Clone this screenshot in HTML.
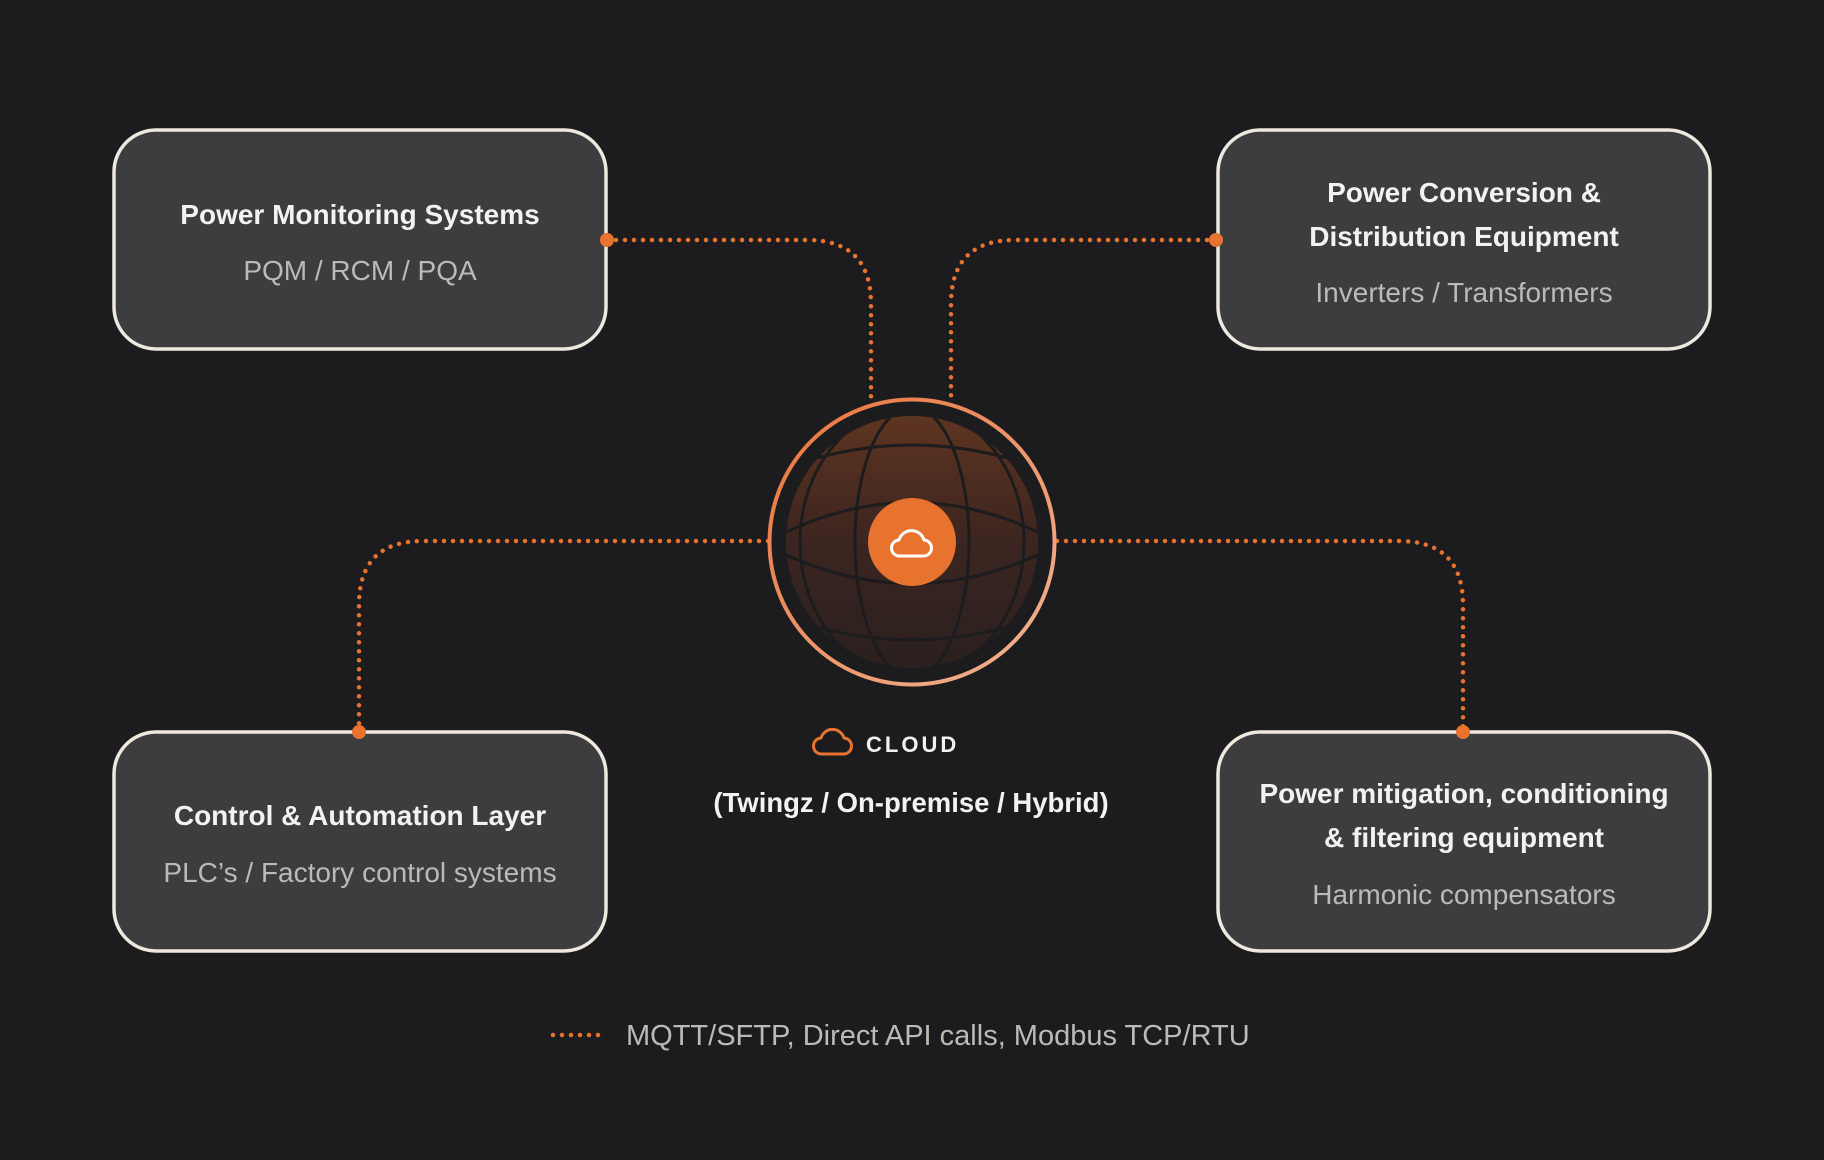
<!DOCTYPE html>
<html><head><meta charset="utf-8"><style>
html,body{margin:0;padding:0;background:#1c1c1e;}
svg{display:block}
text{font-family:"Liberation Sans",sans-serif;}
</style></head><body>
<svg width="1824" height="1160" viewBox="0 0 1824 1160" xmlns="http://www.w3.org/2000/svg">
<defs>
<linearGradient id="globe" x1="0" y1="0" x2="0" y2="1">
<stop offset="0" stop-color="#5e3420"/><stop offset="0.5" stop-color="#3c2520"/><stop offset="1" stop-color="#2a201f"/>
</linearGradient>
<linearGradient id="ring" x1="0" y1="0" x2="1" y2="1">
<stop offset="0" stop-color="#e8733a"/><stop offset="1" stop-color="#f2b594"/>
</linearGradient>
<clipPath id="gc"><circle cx="912" cy="542" r="126"/></clipPath>
</defs>
<rect width="1824" height="1160" fill="#1c1c1e"/>

<g fill="none" stroke="#e8732f" stroke-width="4.5" stroke-linecap="round" stroke-dasharray="0 9">
<path d="M607 240 H807 Q871 240 871 304 V398"/>
<path d="M1216 240 H1015 Q951 240 951 304 V398"/>
<path d="M768 541 H423 Q359 541 359 605 V731"/>
<path d="M1057 541 H1399 Q1463 541 1463 605 V731"/>
<path d="M553 1035 H607"/>
</g>

<g fill="#3d3d40" stroke="#eee8de" stroke-width="3.5">
<rect x="114" y="130" width="492" height="219" rx="42"/>
<rect x="1218" y="130" width="492" height="219" rx="42"/>
<rect x="114" y="732" width="492" height="219" rx="42"/>
<rect x="1218" y="732" width="492" height="219" rx="42"/>
</g>
<g fill="#e8732f">
<circle cx="607" cy="240" r="7"/><circle cx="1216" cy="240" r="7"/>
<circle cx="359" cy="732" r="7"/><circle cx="1463" cy="732" r="7"/>
</g>

<circle cx="912" cy="542" r="142.5" fill="#1c1c1e" stroke="url(#ring)" stroke-width="4"/>
<circle cx="912" cy="542" r="126" fill="url(#globe)"/>
<g clip-path="url(#gc)" fill="none" stroke="#1c1c1e" stroke-width="3">
<ellipse cx="912" cy="542" rx="57" ry="135"/>
<ellipse cx="912" cy="542" rx="112" ry="135"/>
<path d="M780 470 Q912 420 1044 470"/>
<path d="M780 535 Q912 470 1044 535"/>
<path d="M780 552 Q912 615 1044 552"/>
<path d="M780 615 Q912 665 1044 615"/>
</g>
<circle cx="912" cy="542" r="44" fill="#e8732f"/>
<path d="M900 556 a8 8 0 0 1 -1 -16 a13 13 0 0 1 25 0 a8 8 0 0 1 -1 16 z" fill="none" stroke="#fff" stroke-width="3" stroke-linejoin="round"/>

<g text-anchor="middle">
<text x="360" y="224" font-size="28" font-weight="bold" fill="#f4f2ee">Power Monitoring Systems</text>
<text x="360" y="280" font-size="28" fill="#bdbab6">PQM / RCM / PQA</text>
<text x="1464" y="202" font-size="28" font-weight="bold" fill="#f4f2ee">Power Conversion &amp;</text>
<text x="1464" y="246" font-size="28" font-weight="bold" fill="#f4f2ee">Distribution Equipment</text>
<text x="1464" y="302" font-size="28" fill="#bdbab6">Inverters / Transformers</text>
<text x="360" y="825" font-size="28" font-weight="bold" fill="#f4f2ee">Control &amp; Automation Layer</text>
<text x="360" y="882" font-size="28" fill="#bdbab6">PLC’s / Factory control systems</text>
<text x="1464" y="803" font-size="28" font-weight="bold" fill="#f4f2ee">Power mitigation, conditioning</text>
<text x="1464" y="847" font-size="28" font-weight="bold" fill="#f4f2ee">&amp; filtering equipment</text>
<text x="1464" y="904" font-size="28" fill="#bdbab6">Harmonic compensators</text>
<text x="911" y="812" font-size="27.5" font-weight="bold" fill="#f4f2ee">(Twingz / On-premise / Hybrid)</text>
</g>
<path d="M822 754 a8 8 0 0 1 -1 -16 a12 12 0 0 1 23 0 a8 8 0 0 1 -1 16 z" fill="none" stroke="#e8732f" stroke-width="3" stroke-linejoin="round"/>
<text x="866" y="752" font-size="22" font-weight="bold" fill="#f4f2ee" letter-spacing="3">CLOUD</text>
<text x="626" y="1045" font-size="29" fill="#bdbab6">MQTT/SFTP, Direct API calls, Modbus TCP/RTU</text>
</svg>
</body></html>
